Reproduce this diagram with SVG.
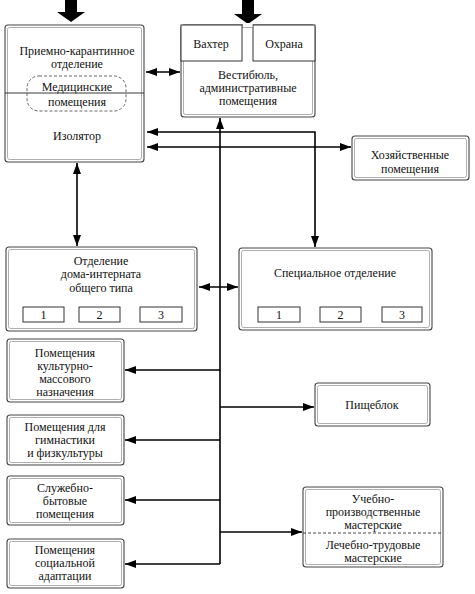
<svg xmlns="http://www.w3.org/2000/svg" width="475" height="594" viewBox="0 0 475 594">
<defs>
<marker id="ah" viewBox="0 0 11 8" refX="11" refY="4" markerWidth="11" markerHeight="8" markerUnits="userSpaceOnUse" orient="auto-start-reverse">
<path d="M0,0 L11,4 L0,8 z" fill="#000"/>
</marker>
</defs>
<style>
.o{fill:#fff;stroke:#444;stroke-width:1.1}
.i{fill:none;stroke:#999;stroke-width:0.8}
.s{fill:#fff;stroke:#333;stroke-width:1}
text{font-family:'Liberation Serif','DejaVu Serif',serif;font-size:12px;fill:#111;text-anchor:middle}
.c{fill:none;stroke:#000;stroke-width:1.6}
.big{fill:#000}
</style>
<rect width="475" height="594" fill="#fff"/>

<g id="entry-arrows">
<path class="big" d="M65,0 H77 V12 H85 L71,22 L57,12 H65 Z"/>
<path class="big" d="M242,0 H254 V14 H262 L248,24 L234,14 H242 Z"/>
</g>

<g id="connectors">
<line class="c" x1="146" y1="72" x2="180" y2="72" marker-start="url(#ah)" marker-end="url(#ah)"/>
<line class="c" x1="220" y1="564" x2="220" y2="118" marker-end="url(#ah)"/>
<polyline class="c" points="147,132 315,132 315,247" marker-start="url(#ah)" marker-end="url(#ah)"/>
<line class="c" x1="147" y1="147" x2="351" y2="147" marker-start="url(#ah)" marker-end="url(#ah)"/>
<line class="c" x1="77" y1="163" x2="77" y2="246" marker-start="url(#ah)" marker-end="url(#ah)"/>
<line class="c" x1="199" y1="287" x2="238" y2="287" marker-start="url(#ah)" marker-end="url(#ah)"/>
<line class="c" x1="220" y1="370" x2="125" y2="370" marker-end="url(#ah)"/>
<line class="c" x1="220" y1="440" x2="125" y2="440" marker-end="url(#ah)"/>
<line class="c" x1="220" y1="500" x2="125" y2="500" marker-end="url(#ah)"/>
<line class="c" x1="220" y1="564" x2="125" y2="564" marker-end="url(#ah)"/>
<line class="c" x1="220" y1="407" x2="314" y2="407" marker-end="url(#ah)"/>
<line class="c" x1="220" y1="532" x2="302" y2="532" marker-end="url(#ah)"/>
</g>

<g id="priemno">
<rect class="o" x="5" y="25" width="139" height="137" rx="3"/>
<rect class="i" x="7.5" y="27.5" width="134" height="132" rx="2"/>
<rect x="27" y="76" width="99" height="35" rx="12" fill="none" stroke="#555" stroke-width="0.9" stroke-dasharray="3,2"/>
<line x1="5" y1="93" x2="144" y2="93" stroke="#222" stroke-width="0.9"/>
<text x="77" y="55">Приемно-карантинное</text>
<text x="77" y="68">отделение</text>
<text x="77" y="91">Медицинские</text>
<text x="77" y="106">помещения</text>
<text x="77" y="140">Изолятор</text>
</g>

<g id="vestibule">
<rect class="o" x="181" y="25" width="134" height="92" rx="3"/>
<rect class="i" x="183.5" y="27.5" width="129" height="87" rx="2"/>
<rect class="s" x="181" y="25" width="61" height="36"/>
<rect class="s" x="253" y="25" width="62" height="36"/>
<line x1="243" y1="25" x2="252.5" y2="25" stroke="#fff" stroke-width="4"/>
<text x="211" y="48">Вахтер</text>
<text x="284" y="48">Охрана</text>
<text x="248" y="79">Вестибюль,</text>
<text x="248" y="92">административные</text>
<text x="248" y="105">помещения</text>
</g>

<g id="hoz">
<rect class="o" x="352" y="136" width="117" height="44" rx="3"/>
<rect class="i" x="354.5" y="138.5" width="112" height="39" rx="2"/>
<text x="410" y="159">Хозяйственные</text>
<text x="410" y="173">помещения</text>
</g>

<g id="otdelenie">
<rect class="o" x="6" y="247" width="191" height="84" rx="3"/>
<rect class="i" x="8.5" y="249.5" width="186" height="79" rx="2"/>
<text x="101" y="265">Отделение</text>
<text x="101" y="278">дома-интерната</text>
<text x="101" y="292">общего типа</text>
<rect class="s" x="23" y="307" width="41" height="15"/>
<rect class="s" x="79" y="307" width="41" height="15"/>
<rect class="s" x="140" y="307" width="42" height="15"/>
<text x="43.5" y="319">1</text>
<text x="99.5" y="319">2</text>
<text x="161" y="319">3</text>
</g>

<g id="special">
<rect class="o" x="239" y="248" width="193" height="82" rx="3"/>
<rect class="i" x="241.5" y="250.5" width="188" height="77" rx="2"/>
<text x="335" y="277">Специальное отделение</text>
<rect class="s" x="258" y="307" width="42" height="15"/>
<rect class="s" x="320" y="307" width="41" height="15"/>
<rect class="s" x="382" y="307" width="40" height="15"/>
<text x="279" y="319">1</text>
<text x="340.5" y="319">2</text>
<text x="402" y="319">3</text>
</g>

<g id="kultura">
<rect class="o" x="7" y="339" width="117" height="63" rx="3"/>
<rect class="i" x="9.5" y="341.5" width="112" height="58" rx="2"/>
<text x="65" y="357">Помещения</text>
<text x="65" y="370">культурно-</text>
<text x="65" y="383">массового</text>
<text x="65" y="396">назначения</text>
</g>

<g id="gym">
<rect class="o" x="7" y="415" width="117" height="50" rx="3"/>
<rect class="i" x="9.5" y="417.5" width="112" height="45" rx="2"/>
<text x="65" y="431">Помещения для</text>
<text x="65" y="444">гимнастики</text>
<text x="65" y="457">и физкультуры</text>
</g>

<g id="pishcheblok">
<rect class="o" x="315" y="383" width="115" height="43" rx="3"/>
<rect class="i" x="317.5" y="385.5" width="110" height="38" rx="2"/>
<text x="372" y="409">Пищеблок</text>
</g>

<g id="sluzhebno">
<rect class="o" x="7" y="476" width="117" height="49" rx="3"/>
<rect class="i" x="9.5" y="478.5" width="112" height="44" rx="2"/>
<text x="65" y="492">Служебно-</text>
<text x="65" y="505">бытовые</text>
<text x="65" y="518">помещения</text>
</g>

<g id="adaptatsiya">
<rect class="o" x="7" y="539" width="117" height="49" rx="3"/>
<rect class="i" x="9.5" y="541.5" width="112" height="44" rx="2"/>
<text x="65" y="554">Помещения</text>
<text x="65" y="567">социальной</text>
<text x="65" y="580">адаптации</text>
</g>

<g id="masterskie">
<rect class="o" x="303" y="487" width="140" height="80" rx="3"/>
<rect class="i" x="305.5" y="489.5" width="135" height="75" rx="2"/>
<line x1="303" y1="533" x2="443" y2="533" stroke="#333" stroke-width="0.9" stroke-dasharray="3,2"/>
<text x="373" y="503">Учебно-</text>
<text x="373" y="516">производственные</text>
<text x="373" y="529">мастерские</text>
<text x="373" y="549">Лечебно-трудовые</text>
<text x="373" y="562">мастерские</text>
</g>
</svg>
